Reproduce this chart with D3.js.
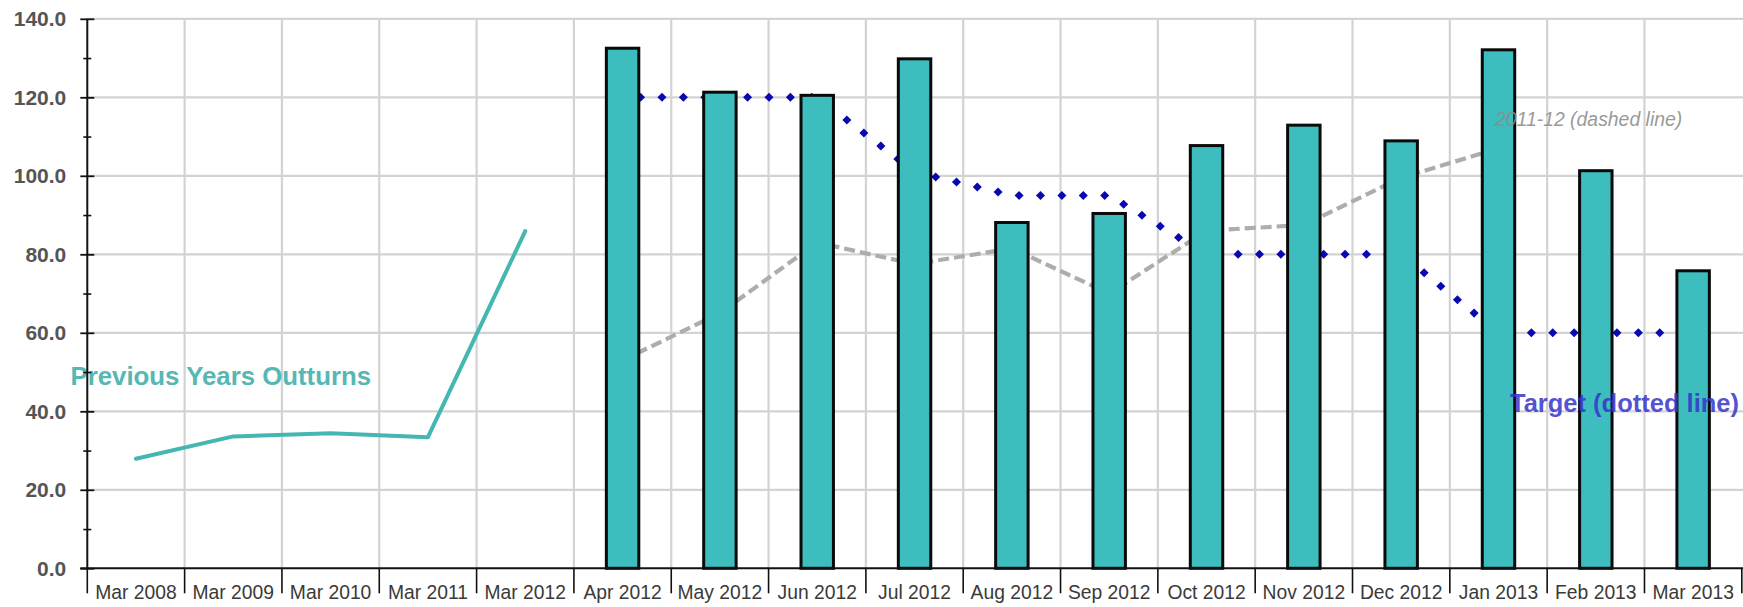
<!DOCTYPE html>
<html>
<head>
<meta charset="utf-8">
<script src="https://cdn.jsdelivr.net/npm/d3@7"></script>
<style>
  html, body { margin: 0; padding: 0; background: #ffffff; }
  svg { display: block; }
</style>
</head>
<body>
<svg id="chart" width="1743" height="607"></svg>
<script>
// ---------------- data ----------------
const categories = ["Mar 2008", "Mar 2009", "Mar 2010", "Mar 2011", "Mar 2012",
  "Apr 2012", "May 2012", "Jun 2012", "Jul 2012", "Aug 2012", "Sep 2012",
  "Oct 2012", "Nov 2012", "Dec 2012", "Jan 2013", "Feb 2013", "Mar 2013"];

const outturnCategories = ["Mar 2008", "Mar 2009", "Mar 2010", "Mar 2011", "Mar 2012"];
const outturnValues = [27.9, 33.6, 34.4, 33.4, 85.9];

const monthCategories = ["Apr 2012", "May 2012", "Jun 2012", "Jul 2012", "Aug 2012", "Sep 2012",
  "Oct 2012", "Nov 2012", "Dec 2012", "Jan 2013", "Feb 2013", "Mar 2013"];
const barValues = [132.5, 121.3, 120.5, 129.8, 88.1, 90.4, 107.7, 112.9, 108.9, 132.1, 101.3, 75.8];
const targetValues = [120, 120, 120, 101, 95, 95, 80, 80, 80, 60, 60, 60];

const prevYearCategories = ["Apr 2012", "May 2012", "Jun 2012", "Jul 2012", "Aug 2012", "Sep 2012",
  "Oct 2012", "Nov 2012", "Dec 2012", "Jan 2013"];
const prevYearValues = [53, 65, 83, 77.5, 81.5, 70, 86, 87.5, 99.5, 107];

const yTickValues = [0, 20, 40, 60, 80, 100, 120, 140];
const yMinorTickValues = [10, 30, 50, 70, 90, 110, 130];

// ---------------- layout ----------------
const W = 1743, H = 607;
const plot = { left: 87.3, right: 1741.8, top: 18.8, bottom: 568.3 };
const FONT = "'Liberation Sans', Arial, Helvetica, sans-serif";

const svg = d3.select("#chart");

const x = d3.scaleBand().domain(categories).range([plot.left, plot.right]).padding(0);
const y = d3.scaleLinear().domain([0, 140]).range([plot.bottom, plot.top]);
const cx = c => x(c) + x.bandwidth() / 2;

// ---------------- grid ----------------
const grid = svg.append("g").attr("class", "grid");
grid.selectAll("line.h").data(yTickValues.filter(v => v > 0)).join("line")
  .attr("class", "h")
  .attr("x1", plot.left).attr("x2", W)
  .attr("y1", d => y(d)).attr("y2", d => y(d))
  .attr("stroke", "#d3d3d3").attr("stroke-width", 2.2);
grid.selectAll("line.v").data(categories.slice(1)).join("line")
  .attr("class", "v")
  .attr("x1", d => x(d)).attr("x2", d => x(d))
  .attr("y1", y(140)).attr("y2", y(0))
  .attr("stroke", "#d3d3d3").attr("stroke-width", 2.2);

// ---------------- lines behind the bars ----------------
const prevData = prevYearCategories.map((c, i) => ({ c, v: prevYearValues[i] }));
const lineGen = d3.line().x(d => cx(d.c)).y(d => y(d.v));

svg.append("path")
  .datum(prevData)
  .attr("d", lineGen)
  .attr("fill", "none")
  .attr("stroke", "#adadad")
  .attr("stroke-width", 4.2)
  .attr("stroke-dasharray", "11,5");

const targetData = monthCategories.map((c, i) => ({ c, v: targetValues[i] }));
const targetPath = svg.append("path")
  .datum(targetData)
  .attr("d", lineGen)
  .attr("fill", "none")
  .attr("stroke", "none");
const tNode = targetPath.node();
const tLen = tNode.getTotalLength();
const dotPts = [];
for (let s = 18; s <= tLen; s += 21.4) {
  const p = tNode.getPointAtLength(s);
  dotPts.push([p.x, p.y]);
}
const diamondType = d3.symbolDiamond2 || d3.symbolDiamond;
svg.append("g").selectAll("path").data(dotPts).join("path")
  .attr("transform", d => `translate(${d[0]},${d[1]})`)
  .attr("d", d3.symbol().type(diamondType).size(52))
  .attr("fill", "#0808b0");

const outData = outturnCategories.map((c, i) => ({ c, v: outturnValues[i] }));
svg.append("path")
  .datum(outData)
  .attr("d", lineGen)
  .attr("fill", "none")
  .attr("stroke", "#45b7b3")
  .attr("stroke-width", 4)
  .attr("stroke-linejoin", "round")
  .attr("stroke-linecap", "round");

// ---------------- bars ----------------
const bw = x.bandwidth() / 3;
svg.append("g").selectAll("rect").data(monthCategories.map((c, i) => ({ c, v: barValues[i] }))).join("rect")
  .attr("x", d => cx(d.c) - bw / 2)
  .attr("width", bw)
  .attr("y", d => y(d.v))
  .attr("height", d => y(0) - y(d.v))
  .attr("fill", "#3dbdbd")
  .attr("stroke", "#0a0a0a")
  .attr("stroke-width", 3);

// ---------------- annotations ----------------
svg.append("text")
  .attr("x", 70.5).attr("y", 385)
  .attr("font-family", FONT).attr("font-weight", "bold").attr("font-size", 25.8)
  .attr("fill", "#55b8b4")
  .text("Previous Years Outturns");

svg.append("text")
  .attr("x", 1510).attr("y", 412)
  .attr("font-family", FONT).attr("font-weight", "bold").attr("font-size", 25.5)
  .attr("fill", "#3434cc").attr("fill-opacity", 0.85)
  .text("Target (dotted line)");

svg.append("text")
  .attr("x", 1495).attr("y", 126)
  .attr("font-family", FONT).attr("font-style", "italic").attr("font-size", 19.4)
  .attr("fill", "#8c8c8c").attr("fill-opacity", 0.9)
  .text("2011-12 (dashed line)");

// ---------------- axes ----------------
const yAxis = svg.append("g")
  .attr("transform", `translate(${plot.left},0)`)
  .call(d3.axisLeft(y).tickValues(yTickValues).tickFormat(d3.format(".1f"))
    .tickSize(7).tickPadding(14));
yAxis.select(".domain").remove();
yAxis.selectAll(".tick line").attr("x1", 7).attr("stroke", "#111").attr("stroke-width", 1.8);
yAxis.selectAll(".tick text")
  .attr("font-family", FONT).attr("font-weight", "bold").attr("font-size", 21)
  .attr("fill", "#555");

const yMinor = svg.append("g")
  .attr("transform", `translate(${plot.left},0)`)
  .call(d3.axisLeft(y).tickValues(yMinorTickValues).tickSize(4).tickFormat(""));
yMinor.select(".domain").remove();
yMinor.selectAll(".tick line").attr("x1", 4).attr("stroke", "#111").attr("stroke-width", 1.6);

svg.append("line")
  .attr("x1", plot.left).attr("x2", plot.left)
  .attr("y1", y(140)).attr("y2", y(0))
  .attr("stroke", "#111").attr("stroke-width", 2);

// x axis
svg.append("line")
  .attr("x1", plot.left - 7).attr("x2", W)
  .attr("y1", y(0)).attr("y2", y(0))
  .attr("stroke", "#111").attr("stroke-width", 2);

const boundaries = categories.map(c => x(c)).concat([x(categories[categories.length - 1]) + x.bandwidth()]);
svg.append("g").selectAll("line").data(boundaries).join("line")
  .attr("x1", d => d).attr("x2", d => d)
  .attr("y1", y(0)).attr("y2", y(0) + 25)
  .attr("stroke", "#111").attr("stroke-width", 1.6);

const xAxis = svg.append("g")
  .attr("transform", `translate(0,${plot.bottom})`)
  .call(d3.axisBottom(x).tickSize(0).tickPadding(17));
xAxis.select(".domain").remove();
xAxis.selectAll(".tick text")
  .attr("font-family", FONT).attr("font-size", 19.3)
  .attr("fill", "#3a3a3a");
</script>
</body>
</html>
